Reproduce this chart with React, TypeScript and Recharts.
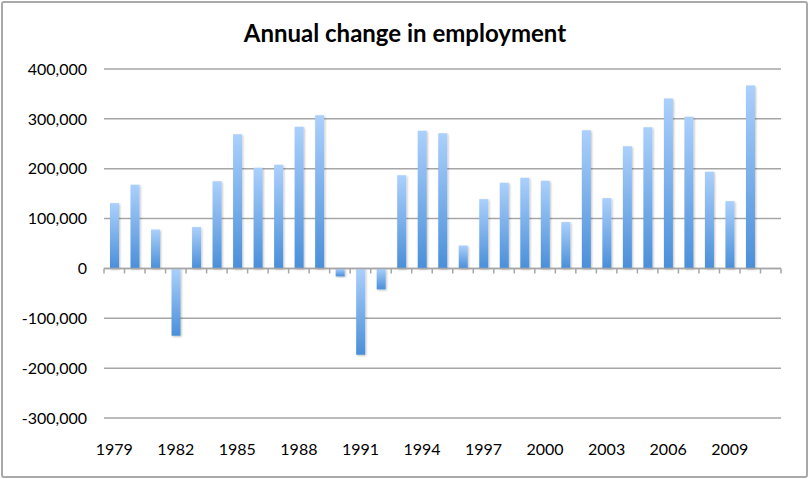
import React from 'react';
import { BarChart, Bar, XAxis, YAxis, CartesianGrid, ReferenceLine } from 'recharts';

const years = [
  '1979','1980','1981','1982','1983','1984','1985','1986','1987','1988','1989',
  '1990','1991','1992','1993','1994','1995','1996','1997','1998','1999','2000',
  '2001','2002','2003','2004','2005','2006','2007','2008','2009','2010','2011',
];
const changes = [
  131000, 168000, 78000, -135000, 83000, 175000, 269000, 202000, 208000, 284000, 307000,
  -16000, -173000, -42000, 187000, 276000, 271000, 46000, 139000, 172000, 182000, 176000,
  93000, 277000, 141000, 245000, 283000, 341000, 304000, 194000, 135000, 367000, 0,
];
const tickLabels = ['1979','1982','1985','1988','1991','1994','1997','2000','2003','2006','2009'];
const yTicks = [-300000, -200000, -100000, 0, 100000, 200000, 300000, 400000];
const title = 'Annual change in employment';

const data = years.map((y, i) => ({ year: y, value: changes[i] }));

const FONT = 'Lato, "Open Sans", sans-serif';
const GRID = '#a6a6a6';

const fmt = (v: number) => (v === 0 ? '0' : v.toLocaleString('en-US'));

const ZeroAxis = (props: any) => {
  const { x1, y1, x2, y2 } = props;
  const n = years.length;
  const step = (x2 - x1) / n;
  const marks = [];
  for (let i = 0; i <= n; i++) {
    const x = x1 + i * step;
    marks.push(<line key={i} x1={x} x2={x} y1={y1} y2={y1 + 5} stroke={GRID} strokeWidth={1.5} />);
  }
  return (
    <g>
      <line x1={x1} x2={x2} y1={y1} y2={y2} stroke={GRID} strokeWidth={1.5} />
      {marks}
    </g>
  );
};

export default function App() {
  return (
    <div style={{ position: 'absolute', left: 0, top: 0, width: 809, height: 479, background: '#fff' }}>
      <div
        style={{
          position: 'absolute', left: 1, top: 1, width: 807, height: 477,
          border: '2px solid #a9a9a9', borderRadius: 3, boxSizing: 'border-box',
        }}
      />
      <svg style={{ position: 'absolute', left: 0, top: 0 }} width={809} height={60}>
        <text x={405} y={42} textAnchor="middle" fontFamily={FONT} fontWeight={700} fontSize={24} fill="#000">
          {title}
        </text>
      </svg>
      <div style={{ position: 'absolute', left: 0, top: 0 }}>
        <BarChart
          width={809}
          height={479}
          data={data}
          margin={{ top: 69, right: 28, bottom: 31, left: 44 }}
        >
          <defs>
            <linearGradient id="barGrad" x1="0" y1="0" x2="0" y2="1">
              <stop offset="0%" stopColor="#abd0fc" />
              <stop offset="100%" stopColor="#4a8fd9" />
            </linearGradient>
            <filter id="barShadow" x="-50%" y="-10%" width="200%" height="120%">
              <feDropShadow dx="1" dy="1" stdDeviation="1" floodColor="#000" floodOpacity="0.25" />
            </filter>
          </defs>
          <CartesianGrid vertical={false} stroke={GRID} strokeWidth={1.5} horizontalValues={yTicks} />
          <XAxis
            dataKey="year"
            interval={0}
            axisLine={false}
            tickLine={false}
            height={30}
            tickMargin={20}
            tickFormatter={(v: string) => (tickLabels.includes(v) ? v : '')}
            tick={{ fontFamily: FONT, fontSize: 16, fill: '#000' }}
          />
          <YAxis
            domain={[-300000, 400000]}
            ticks={yTicks}
            axisLine={false}
            tickLine={false}
            width={60}
            tickMargin={11}
            tickFormatter={fmt}
            tick={{ fontFamily: FONT, fontSize: 16, fill: '#000' }}
          />
          <ReferenceLine y={0} shape={ZeroAxis} />
          <Bar dataKey="value" fill="url(#barGrad)" barSize={9} isAnimationActive={false} filter="url(#barShadow)" />
        </BarChart>
      </div>
    </div>
  );
}
